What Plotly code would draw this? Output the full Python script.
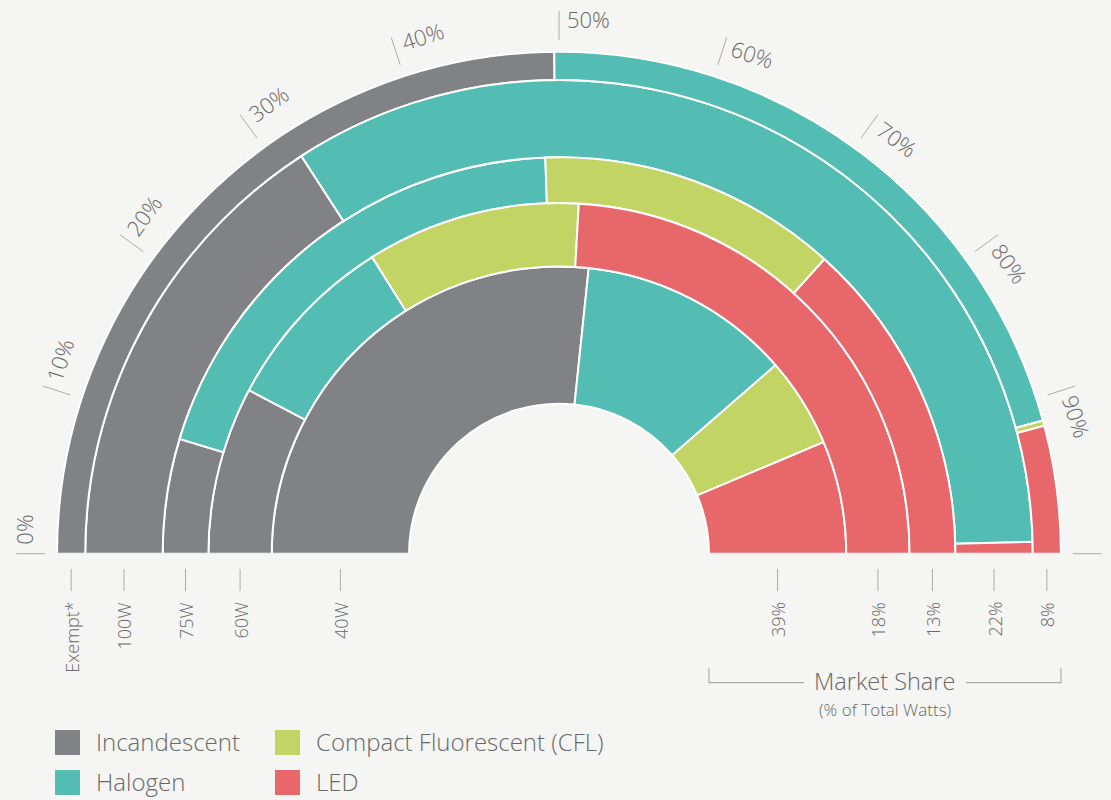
import math
import numpy as np
import plotly.graph_objects as go

# ---------------- data ----------------
rings = ["40W", "60W", "75W", "100W", "Exempt*"]           # inner -> outer
market_share = [39, 18, 13, 22, 8]                          # % of total watts (ring thickness)
share_labels = ["39%", "18%", "13%", "22%", "8%"]
techs = ["Incandescent", "Halogen", "Compact Fluorescent (CFL)", "LED"]
incandescent = [53.3, 15.45, 9.35, 31.7, 49.7]              # % of each ring
halogen = [23.9, 16.65, 39.55, 67.5, 41.75]
cfl = [10.1, 19.7, 24.45, 0.0, 0.35]
led = [12.7, 48.2, 26.65, 0.8, 8.2]
pct_ticks = list(range(0, 101, 10))
pct_labels = [f"{v}%" for v in range(0, 100, 10)]

# ---------------- style / geometry ----------------
W, H = 1111, 800
CX, CY = 559.0, 553.7      # pixel position of the half-donut centre
K = 3.52                   # pixels per radial unit (1 unit = 1 % market share)
HOLE = 42.6                # radius of the empty centre, in radial units
RMAX = 155.0               # radial range of the polar subplot
OUTER = HOLE + sum(market_share)
BG = "#f5f5f3"
TXT = "#686868"
TICK = "#ababab"
FONT = "Open Sans"
FW = 300
colors = ["#818285", "#53bcb3", "#c2d463", "#e8676a"]


def ux(px):
    return (px - CX) / K


def uy(py):
    return (CY - py) / K


fig = go.Figure()

# ---------------- rings ----------------
series = [incandescent, halogen, cfl, led]
ring_base = np.concatenate([[0.0], np.cumsum(market_share)[:-1]]) + HOLE
start = np.zeros(len(rings))
for name, vals, col in zip(techs, series, colors):
    th, wd, rr, bb = [], [], [], []
    for i, v in enumerate(vals):
        if v > 0:
            th.append((start[i] + v / 2) * 1.8)
            wd.append(v * 1.8)
            rr.append(market_share[i])
            bb.append(ring_base[i])
        start[i] += v
    fig.add_trace(go.Barpolar(
        theta=th, width=wd, r=rr, base=bb, name=name,
        marker=dict(color=col, line=dict(color="white", width=2)),
        showlegend=False, subplot="polar", hoverinfo="name"))

# ---------------- percentage ticks round the outside ----------------
tx, ty = [], []
for p in pct_ticks:
    a = math.radians(180 - 1.8 * p)
    for r in (OUTER + 3.4, OUTER + 11.6):
        tx.append(r * math.cos(a))
        ty.append(r * math.sin(a))
    tx.append(None)
    ty.append(None)
fig.add_trace(go.Scatter(x=tx, y=ty, mode="lines", line=dict(color=TICK, width=1),
                         hoverinfo="skip", showlegend=False))

annotations = []
LAB_FS = 22
for p, lab in zip(pct_ticks, pct_labels):
    r_lab = OUTER + 9.6
    width_px = (0.55 * (len(lab) - 1) + 0.8) * LAB_FS
    off = math.degrees((9 + width_px / 2) / (r_lab * K))
    a = math.radians(180 - 1.8 * p - off)
    annotations.append(dict(
        x=r_lab * math.cos(a), y=r_lab * math.sin(a), xref="x", yref="y",
        text=lab, showarrow=False, textangle=-90 + 1.8 * p,
        xanchor="center", yanchor="middle",
        font=dict(family=FONT, size=LAB_FS, color=TXT, weight=FW)))

# ---------------- ring labels below the baseline ----------------
bx, by = [], []
mids = ring_base + np.array(market_share) / 2
for i in range(len(rings)):
    for sgn, lab in ((-1, rings[i]), (1, share_labels[i])):
        x = sgn * mids[i]
        bx += [x, x, None]
        by += [uy(569), uy(591), None]
        annotations.append(dict(
            x=x, y=uy(600), xref="x", yref="y", text=lab, showarrow=False,
            textangle=-90, xanchor="center", yanchor="top",
            font=dict(family=FONT, size=18, color=TXT, weight=FW)))
fig.add_trace(go.Scatter(x=bx, y=by, mode="lines", line=dict(color=TICK, width=1),
                         hoverinfo="skip", showlegend=False))

# ---------------- market share bracket ----------------
mid_b = HOLE + sum(market_share) / 2
gap = 23
yb, yt = uy(682.7), uy(668)
fig.add_trace(go.Scatter(
    x=[HOLE, HOLE, mid_b - gap, None, mid_b + gap, OUTER, OUTER],
    y=[yt, yb, yb, None, yb, yb, yt], mode="lines",
    line=dict(color=TICK, width=1.2), hoverinfo="skip", showlegend=False))
annotations.append(dict(x=mid_b, y=uy(681), xref="x", yref="y", text="Market Share",
                        showarrow=False, xanchor="center", yanchor="middle",
                        font=dict(family=FONT, size=23.5, color=TXT, weight=FW)))
annotations.append(dict(x=mid_b, y=uy(709), xref="x", yref="y", text="(% of Total Watts)",
                        showarrow=False, xanchor="center", yanchor="middle",
                        font=dict(family=FONT, size=17, color=TXT, weight=FW)))

# ---------------- legend ----------------
leg_px = [(67.5, 742.5), (67.5, 782.5), (287.5, 742.5), (287.5, 782.5)]
fig.add_trace(go.Scatter(
    x=[ux(a) for a, b in leg_px], y=[uy(b) for a, b in leg_px], mode="markers",
    marker=dict(symbol="square", size=25, color=colors, line=dict(width=0)),
    hoverinfo="skip", showlegend=False))
for (a, b), name in zip(leg_px, techs):
    annotations.append(dict(x=ux(a + 26), y=uy(b - 1), xref="x", yref="y", text=name,
                            showarrow=False, xanchor="left", yanchor="middle",
                            font=dict(family=FONT, size=24, color=TXT, weight=FW)))

# ---------------- layout ----------------
fig.update_layout(
    width=W, height=H, margin=dict(l=0, r=0, t=0, b=0),
    paper_bgcolor=BG, plot_bgcolor="rgba(0,0,0,0)",
    showlegend=False,
    xaxis=dict(range=[ux(0), ux(W)], domain=[0, 1], visible=False, fixedrange=True),
    yaxis=dict(range=[uy(H), uy(0)], domain=[0, 1], visible=False, fixedrange=True),
    polar=dict(
        domain=dict(x=[(CX - RMAX * K) / W, (CX + RMAX * K) / W],
                    y=[(H - CY) / H, (H - CY + RMAX * K) / H]),
        sector=[0, 180], bgcolor="rgba(0,0,0,0)", barmode="overlay",
        radialaxis=dict(range=[0, RMAX], visible=False),
        angularaxis=dict(rotation=180, direction="clockwise", visible=False,
                         showgrid=False, showline=False, ticks=""),
    ),
    annotations=annotations,
)

fig.write_html("out.html", config={"displayModeBar": False},
               post_script="document.body.style.margin='0';"
                           "document.body.style.background='" + BG + "';")
